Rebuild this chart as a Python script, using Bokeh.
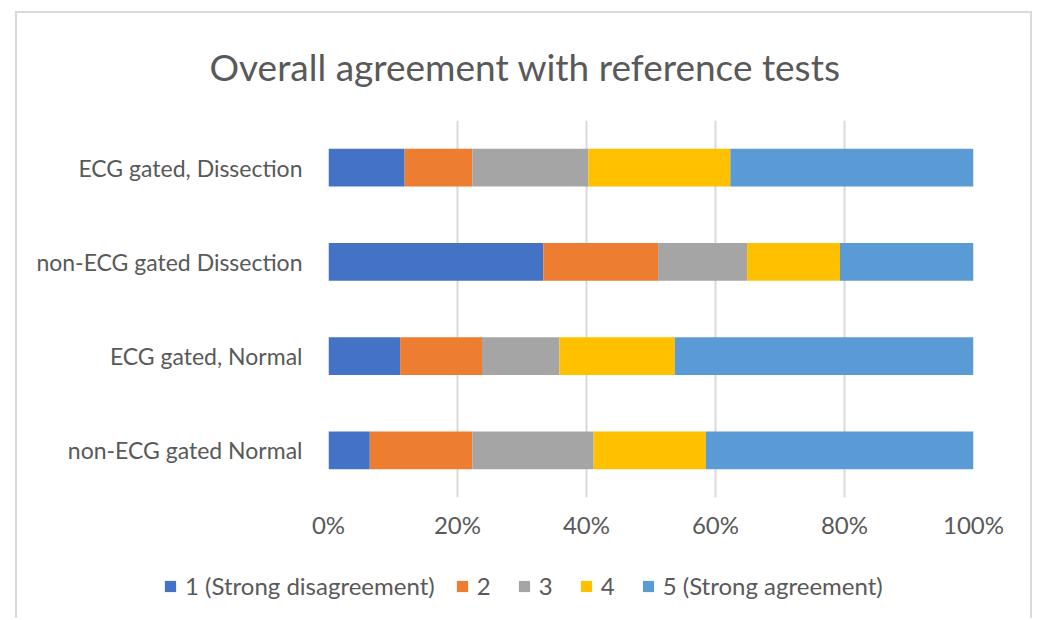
from bokeh.plotting import figure
from bokeh.models import (ColumnDataSource, FactorRange, Range1d, FixedTicker,
                          Legend, LegendItem, Title)
from bokeh.embed import file_html
from bokeh.resources import INLINE

# ---- data (percent of responses) ----
categories = ["non-ECG gated Normal", "ECG gated, Normal",
              "non-ECG gated Dissection", "ECG gated, Dissection"]
score1 = [6.4, 11.1, 33.3, 11.8]
score2 = [15.9, 12.7, 17.8, 10.5]
score3 = [18.8, 12.0, 13.8, 18.0]
score4 = [17.4, 17.9, 14.4, 22.0]
score5 = [41.5, 46.3, 20.7, 37.7]
series_names = ["1 (Strong disagreement)", "2", "3", "4", "5 (Strong agreement)"]
tick_values = [0, 20, 40, 60, 80, 100]
tick_labels = ["0%", "20%", "40%", "60%", "80%", "100%"]
title_text = "Overall agreement with reference tests"

colors = ["#4472C4", "#ED7D31", "#A5A5A5", "#FFC000", "#5B9BD5"]
keys = ["s1", "s2", "s3", "s4", "s5"]
FONT = "Lato"
TXT = "#595959"
BORDER = "2px solid #d9d9d9"

source = ColumnDataSource(dict(cat=categories, s1=score1, s2=score2,
                               s3=score3, s4=score4, s5=score5))

# ---- main chart ----
p = figure(width=1017, height=558, output_backend="svg", toolbar_location=None,
           y_range=FactorRange(*categories), x_range=Range1d(0, 100),
           min_border_left=311, min_border_right=61,
           min_border_top=104, min_border_bottom=74)
p.margin = (11, 0, 0, 15)
p.styles = {"border-top": BORDER, "border-left": BORDER, "border-right": BORDER}
p.outline_line_color = None

p.hbar_stack(keys, y="cat", height=0.4, color=colors, line_color=None, source=source)

p.xaxis.ticker = FixedTicker(ticks=tick_values)
p.xaxis.major_label_overrides = {v: l for v, l in zip(tick_values, tick_labels)}
for ax in (p.xaxis[0], p.yaxis[0]):
    ax.axis_line_color = None
    ax.major_tick_line_color = None
    ax.minor_tick_line_color = None
    ax.major_label_text_font = FONT
    ax.major_label_text_color = TXT
p.xaxis.major_label_text_font_size = "24px"
p.yaxis.major_label_text_font_size = "23px"
p.xaxis.major_label_standoff = 6
p.yaxis.major_label_standoff = 20

p.xgrid.grid_line_color = "#d9d9d9"
p.xgrid.grid_line_width = 2
p.ygrid.grid_line_color = None

title = Title(text=title_text, align="left", offset=-119, vertical_align="top",
              text_font=FONT, text_font_size="37px", text_color=TXT,
              text_font_style="normal")
title.standoff = 60
p.add_layout(title, "above")

# ---- legend strip (its bars fall outside its x range, only the legend shows) ----
leg = figure(width=1017, height=49, output_backend="svg", toolbar_location=None,
             x_range=Range1d(-200, -100), y_range=FactorRange(*categories),
             x_axis_type=None, y_axis_type=None, min_border=0)
leg.margin = (0, 0, 0, 15)
leg.styles = {"border-left": BORDER, "border-right": BORDER}
leg.outline_line_color = None
leg.grid.visible = False
leg_renderers = leg.hbar_stack(keys, y="cat", height=0.4, color=colors,
                               line_color=None, source=source)
items = [LegendItem(label=n, renderers=[r]) for n, r in zip(series_names, leg_renderers)]
legend = Legend(items=items, orientation="horizontal", location=(146, 18),
                label_text_font=FONT, label_text_font_size="24px",
                label_text_color=TXT, glyph_width=14, glyph_height=14,
                label_standoff=8, spacing=20, padding=0,
                margin=0, border_line_color=None, background_fill_alpha=0)
leg.add_layout(legend, "center")

open("out.html", "w").write(file_html([p, leg], INLINE))
